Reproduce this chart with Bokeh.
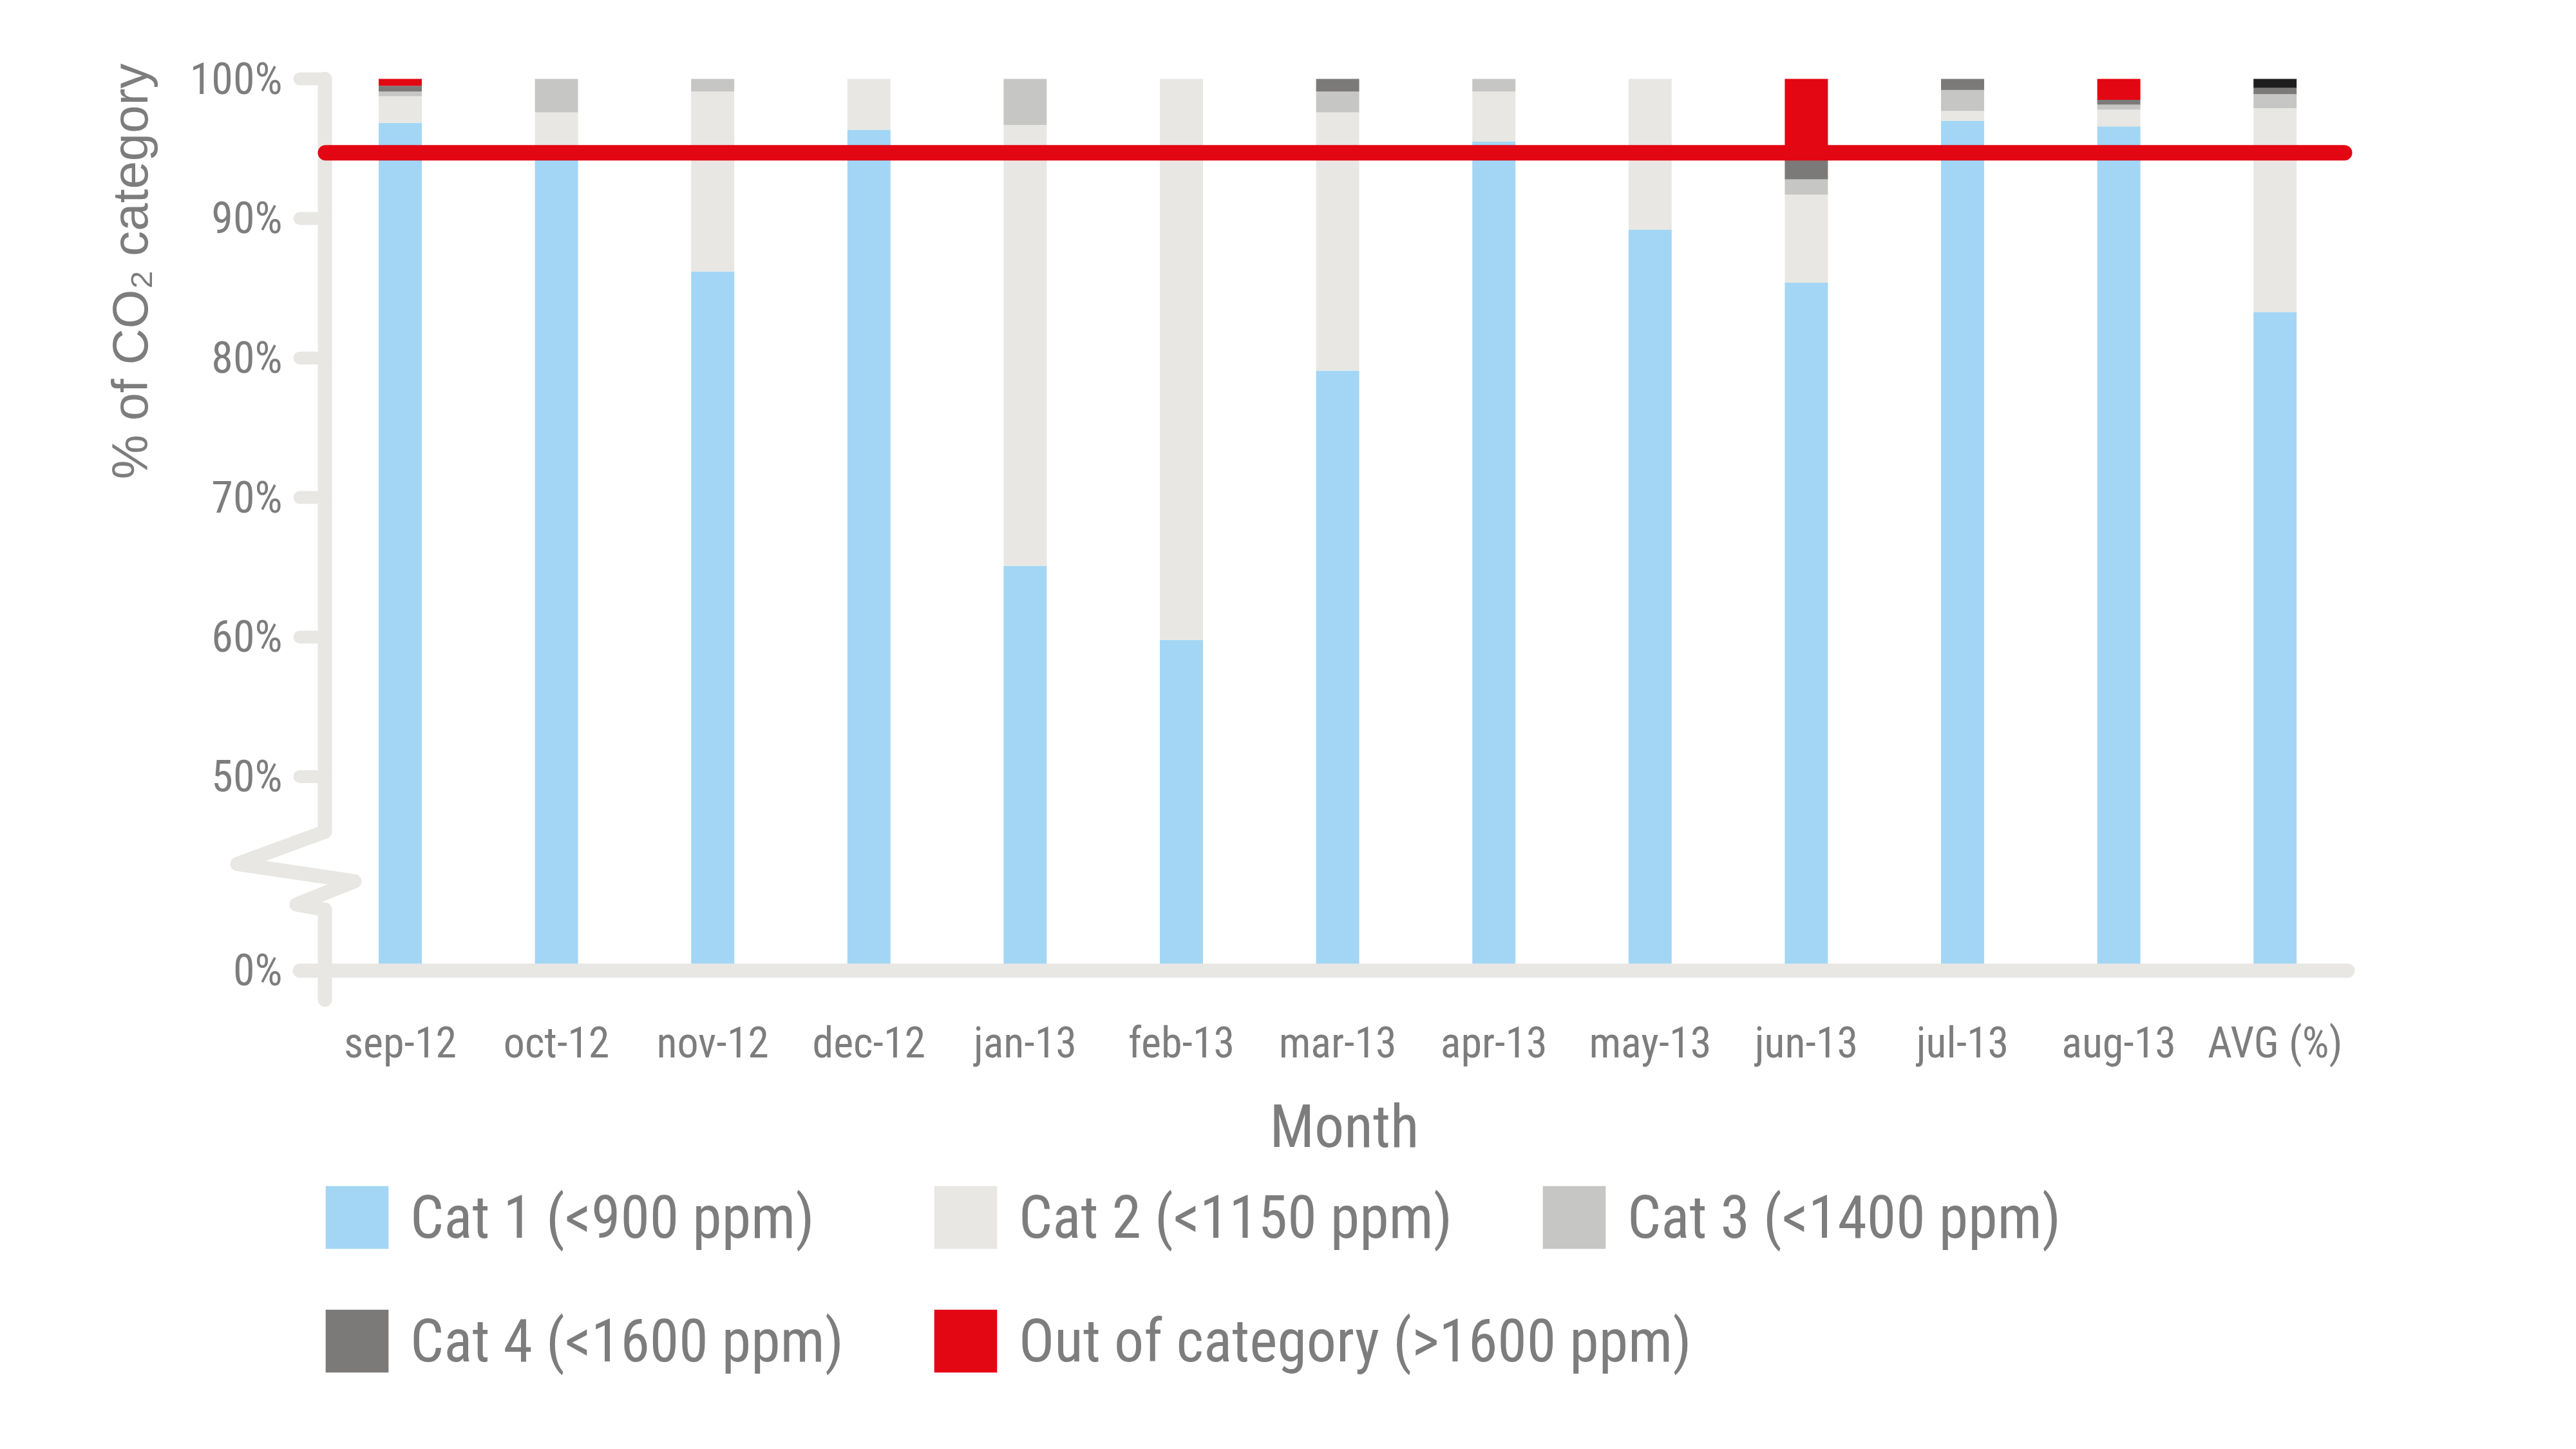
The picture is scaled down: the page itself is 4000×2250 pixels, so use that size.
import math
from bokeh.plotting import figure
from bokeh.layouts import column
from bokeh.models import ColumnDataSource, FixedTicker, Legend, LegendItem, Range1d, Title
from bokeh.embed import file_html
from bokeh.resources import INLINE

# ---------------- data (percent of time per CO2 category) ----------------
months = ["sep-12", "oct-12", "nov-12", "dec-12", "jan-13", "feb-13", "mar-13",
          "apr-13", "may-13", "jun-13", "jul-13", "aug-13", "AVG (%)"]
cat1 = [96.85, 94.8, 86.2, 96.35, 65.1, 59.8, 79.1, 95.5, 89.2, 85.4, 97.0, 96.6, 83.3]
cat2 = [1.9, 2.8, 12.9, 3.65, 31.6, 40.2, 18.5, 3.6, 10.8, 6.3, 0.7, 1.2, 14.6]
cat3 = [0.35, 2.4, 0.9, 0.0, 3.3, 0.0, 1.5, 0.9, 0.0, 1.1, 1.5, 0.35, 1.0]
cat4 = [0.4, 0.0, 0.0, 0.0, 0.0, 0.0, 0.9, 0.0, 0.0, 1.6, 0.8, 0.35, 0.45]
out_cat = [0.5, 0.0, 0.0, 0.0, 0.0, 0.0, 0.0, 0.0, 0.0, 5.6, 0.0, 1.5, 0.65]
series_labels = ["Cat 1 (<900 ppm)", "Cat 2 (<1150 ppm)", "Cat 3 (<1400 ppm)",
                 "Cat 4 (<1600 ppm)", "Out of category (>1600 ppm)"]
y_tick_values = [0, 50, 60, 70, 80, 90, 100]
y_tick_labels = ["0%", "50%", "60%", "70%", "80%", "90%", "100%"]
threshold = 94.7

# ---------------- styles ----------------
C1, C2, C3, C4, COUT, CAVG_OUT = "#a3d6f5", "#e8e7e3", "#c6c6c4", "#7b7a79", "#e30613", "#1e1e1e"
SERIES_COLORS = [C1, C2, C3, C4, COUT]
AXIS_C = "#e8e7e4"
TXT_C = "#7d7d7d"
NARROW = "Roboto Condensed, Liberation Sans Narrow, DejaVu Sans Condensed, sans-serif"

# ---------------- layout (pixels) ----------------
W, H = 3984, 2234
HM = 1830                  # height of the chart figure; the legend strip fills the rest
FL, FT, FB = 350, 98, 1578
FR = 2 * 2087 - FL         # keeps the x-axis title centred where the reference has it
PX_PER_PCT = 21.67
BAR0_PX, BAR_STEP = 621, 242.6
Y100_PX = 122
BAR_W = 0.276
ZERO_D = 36.1   # display position of the 0% level under the broken axis
LABEL_RIGHT = 438


def xd(px):
    return (px - BAR0_PX) / BAR_STEP


def yd(py):
    return 100 - (py - Y100_PX) / PX_PER_PCT


def to_disp(v):
    return v if v >= 50 else ZERO_D + v * (50 - ZERO_D) / 50


n = len(months)
data = dict(x=list(range(n)))
stack = [cat1, cat2, cat3, cat4, out_cat]
keys = ["c1", "c2", "c3", "c4", "out"]
run = [0.0] * n
for k, s in zip(keys, stack):
    data[k + "_b"] = [to_disp(r) for r in run]
    run = [r + v for r, v in zip(run, s)]
    data[k + "_t"] = [to_disp(r) for r in run]
data["out_color"] = [COUT] * (n - 1) + [CAVG_OUT]
src = ColumnDataSource(data)

p = figure(width=W, height=HM, x_range=Range1d(xd(FL), xd(FR)), y_range=Range1d(yd(FB), yd(FT)),
           output_backend="svg", toolbar_location=None, title=None,
           min_border_left=FL, min_border_right=W - FR, min_border_top=FT, min_border_bottom=HM - FB)
p.outline_line_color = None
p.grid.visible = False

# ----- hand-drawn broken axis -----
AX = xd(504)
TICK_L = xd(465)
brk = [(504, 1291), (368, 1341), (550, 1368), (460, 1404), (504, 1412)]
p.line([AX, AX], [100, yd(1291)], line_color=AXIS_C, line_width=22, line_cap="round")
p.line([xd(a) for a, b in brk], [yd(b) for a, b in brk], line_color=AXIS_C, line_width=22,
       line_cap="round", line_join="round")
p.line([AX, AX], [yd(1412), yd(1552)], line_color=AXIS_C, line_width=22, line_cap="round")
for v in y_tick_values[1:]:
    p.line([TICK_L, AX], [to_disp(v), to_disp(v)], line_color=AXIS_C, line_width=20, line_cap="round")

# ----- bars -----
for k, col in zip(keys, [C1, C2, C3, C4, "out_color"]):
    p.vbar(x="x", width=BAR_W, bottom=k + "_b", top=k + "_t", source=src,
           fill_color=col, line_color=None)

# zero baseline (drawn over the bar feet)
p.line([TICK_L, xd(3645)], [to_disp(0), to_disp(0)], line_color=AXIS_C, line_width=22, line_cap="round")

# threshold line
p.line([xd(505), xd(3640)], [threshold, threshold], line_color=COUT, line_width=24, line_cap="round")

# ----- axes -----
p.yaxis.ticker = FixedTicker(ticks=[to_disp(v) for v in y_tick_values])
p.yaxis.major_label_overrides = {to_disp(v): t for v, t in zip(y_tick_values, y_tick_labels)}
p.xaxis.ticker = FixedTicker(ticks=list(range(n)))
p.xaxis.major_label_overrides = {i: m for i, m in enumerate(months)}
for ax in (p.xaxis, p.yaxis):
    ax.axis_line_color = None
    ax.major_tick_line_color = None
    ax.minor_tick_line_color = None
    ax.major_tick_out = 0
    ax.major_tick_in = 0
    ax.major_label_text_font = NARROW
    ax.major_label_text_color = TXT_C
p.xaxis.major_label_text_font_size = "66px"
p.yaxis.major_label_text_font_size = "68px"
p.yaxis.major_label_standoff = FL - LABEL_RIGHT   # labels sit inside the widened frame
p.xaxis.major_label_standoff = 2
p.xaxis.axis_label = "Month"
p.xaxis.axis_label_text_font = NARROW
p.xaxis.axis_label_text_font_size = "92px"
p.xaxis.axis_label_text_font_style = "normal"
p.xaxis.axis_label_text_color = TXT_C
p.xaxis.axis_label_standoff = 35

ytitle = Title(text="% of CO\u2082 category", align="right", standoff=92,
               text_font="Liberation Sans", text_font_size="78px",
               text_font_style="normal", text_color=TXT_C)
p.add_layout(ytitle, "left")

# ----- legend strip (second figure under the chart) -----
HL = H - HM
pl = figure(width=W, height=HL, x_range=Range1d(0, 1), y_range=Range1d(0, 1),
            output_backend="svg", toolbar_location=None, title=None,
            x_axis_type=None, y_axis_type=None,
            min_border_left=FL, min_border_right=W - FR, min_border_top=0, min_border_bottom=0)
pl.outline_line_color = None
pl.grid.visible = False
# zero-height proxies: they only carry the legend colours
leg_renderers = [pl.vbar(x=[0.5], bottom=[0], top=[0], width=0.1, fill_color=c, line_color=None)
                 for c in SERIES_COLORS]
items = [LegendItem(label=l, renderers=[r]) for l, r in zip(series_labels, leg_renderers)]
GLYPH = 122      # Bokeh insets area swatches by 10% per side -> ~98px visible square
ITEM_H = 130


def make_legend(its, swatch_center_px):
    # swatch_center_px: page y of the swatch centres of this row
    return Legend(items=its, orientation="horizontal",
                  location=(493 - FL, HL - (swatch_center_px - HM + ITEM_H / 2)),
                  glyph_width=GLYPH, glyph_height=GLYPH, label_standoff=22, spacing=0,
                  label_width=801, label_height=ITEM_H, padding=0, margin=0,
                  border_line_color=None, background_fill_alpha=0,
                  label_text_font=NARROW, label_text_font_size="92px", label_text_color=TXT_C)


pl.add_layout(make_legend(items[:3], 1890))
pl.add_layout(make_legend(items[3:], 2082))

open("out.html", "w").write(file_html(column(p, pl, spacing=0), INLINE))
